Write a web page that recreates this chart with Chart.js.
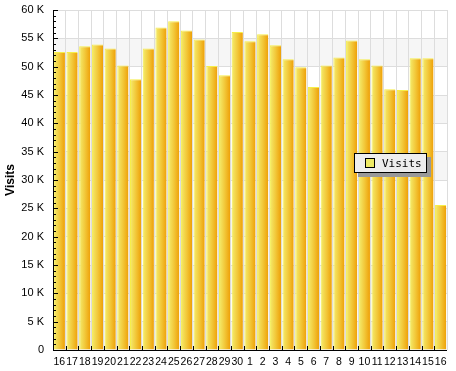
<!DOCTYPE html>
<html>
<head>
<meta charset="utf-8">
<script src="https://cdn.jsdelivr.net/npm/chart.js@4/dist/chart.umd.min.js"></script>
<style>
  html, body { margin: 0; padding: 0; background: #fff; }
  #wrap { position: relative; width: 456px; height: 371px; }
</style>
</head>
<body>
<div id="wrap"><canvas id="myChart" width="456" height="371"></canvas></div>
<script>
// days of the period
var days = ['16','17','18','19','20','21','22','23','24','25','26','27','28','29','30',
            '1','2','3','4','5','6','7','8','9','10','11','12','13','14','15','16'];
// visits per day
var visits = [52600, 52600, 53600, 53900, 53200, 50200, 47800, 53200, 56900, 58000,
              56400, 54800, 50100, 48500, 56100, 54500, 55700, 53800, 51300, 49900,
              46400, 50200, 51600, 54600, 51300, 50200, 46000, 45900, 51500, 51500, 25600];
var yMax = 60000;
var yStep = 5000;

var font = "'Liberation Sans', Arial, sans-serif";

// gray bands behind the bars, every other step
var bandsPlugin = {
  id: 'bands',
  beforeDraw: function (chart) {
    var c = chart.ctx, a = chart.chartArea, y = chart.scales.y;
    c.save();
    c.fillStyle = '#f6f6f6';
    for (var v = 50000; v >= 0; v -= 10000) {
      var t = y.getPixelForValue(v + yStep), b = y.getPixelForValue(v);
      c.fillRect(a.left, t, a.right - a.left, b - t);
    }
    c.restore();
  }
};

// axis lines, inside ticks and the floating legend
var decoPlugin = {
  id: 'deco',
  afterDraw: function (chart) {
    var c = chart.ctx, a = chart.chartArea, y = chart.scales.y;
    c.save();
    c.strokeStyle = '#000';
    c.lineWidth = 1;
    c.beginPath();
    c.moveTo(a.left + 0.5, a.top);
    c.lineTo(a.left + 0.5, a.bottom + 0.5);
    c.lineTo(a.right, a.bottom + 0.5);
    for (var v = 0; v <= yMax; v += 1000) {
      var py = Math.round(y.getPixelForValue(v)) + 0.5;
      c.moveTo(a.left, py);
      c.lineTo(a.left + (v % yStep === 0 ? 5 : 3), py);
    }
    var w = (a.right - a.left) / days.length;
    for (var i = 1; i < days.length; i++) {
      var px = Math.round(a.left + i * w) + 0.5;
      c.moveTo(px, a.bottom);
      c.lineTo(px, a.bottom - 4);
    }
    c.stroke();

    // legend box
    var lx = 354, ly = 153, lw = 73, lh = 20;
    c.fillStyle = '#999';
    c.fillRect(lx + 4, ly + 4, lw, lh);
    c.fillStyle = '#eeeeee';
    c.fillRect(lx, ly, lw, lh);
    c.strokeStyle = '#000';
    c.strokeRect(lx + 0.5, ly + 0.5, lw - 1, lh - 1);
    c.fillStyle = '#eeea66';
    c.fillRect(365, 158, 10, 10);
    c.strokeRect(365.5, 158.5, 9, 9);
    c.fillStyle = '#000';
    c.font = "11px 'DejaVu Sans Mono', monospace";
    c.textBaseline = 'middle';
    c.fillText('Visits', 382, 164);
    c.restore();
  }
};

function barFill(ctx) {
  var chart = ctx.chart, a = chart.chartArea;
  if (!a) return '#f0c030';
  var w = (a.right - a.left) / days.length;
  var left = a.left + ctx.dataIndex * w + 1;
  var right = left + w * 0.86;
  var g = chart.ctx.createLinearGradient(left, 0, right, 0);
  g.addColorStop(0, '#f4ec6c');
  g.addColorStop(0.5, '#f2c83a');
  g.addColorStop(1, '#eea008');
  return g;
}

new Chart(document.getElementById('myChart'), {
  type: 'bar',
  data: {
    labels: days,
    datasets: [{
      label: 'Visits',
      data: visits,
      backgroundColor: barFill,
      borderColor: '#f6ee48',
      borderWidth: { top: 1, left: 1, right: 0, bottom: 0 },
      borderSkipped: 'bottom',
      barPercentage: 0.88,
      categoryPercentage: 1
    }]
  },
  options: {
    responsive: false,
    animation: false,
    layout: { padding: { top: 10, right: 9, left: 0, bottom: 0 } },
    plugins: { legend: { display: false }, tooltip: { enabled: false } },
    scales: {
      x: {
        grid: { color: '#dddddd', drawTicks: false, offset: true },
        border: { display: false },
        ticks: { color: '#000', font: { family: font, size: 10.5 }, padding: 6, maxRotation: 0, autoSkip: false },
        afterFit: function (s) { s.height = 21; s.paddingLeft = 0; s.paddingRight = 0; }
      },
      y: {
        min: 0,
        max: yMax,
        grid: { color: '#dddddd', drawTicks: false },
        border: { display: false },
        ticks: {
          stepSize: yStep,
          color: '#000',
          padding: 9,
          font: { family: font, size: 11 },
          callback: function (v) { return v === 0 ? '0' : (v / 1000) + ' K'; }
        },
        title: { display: true, text: 'Visits', color: '#000', padding: { top: 3, bottom: 0 }, font: { family: font, size: 12, weight: 'bold' } },
        afterFit: function (s) { s.width = 53; s.paddingTop = 0; s.paddingBottom = 0; }
      }
    }
  },
  plugins: [bandsPlugin, decoPlugin]
});
</script>
</body>
</html>
